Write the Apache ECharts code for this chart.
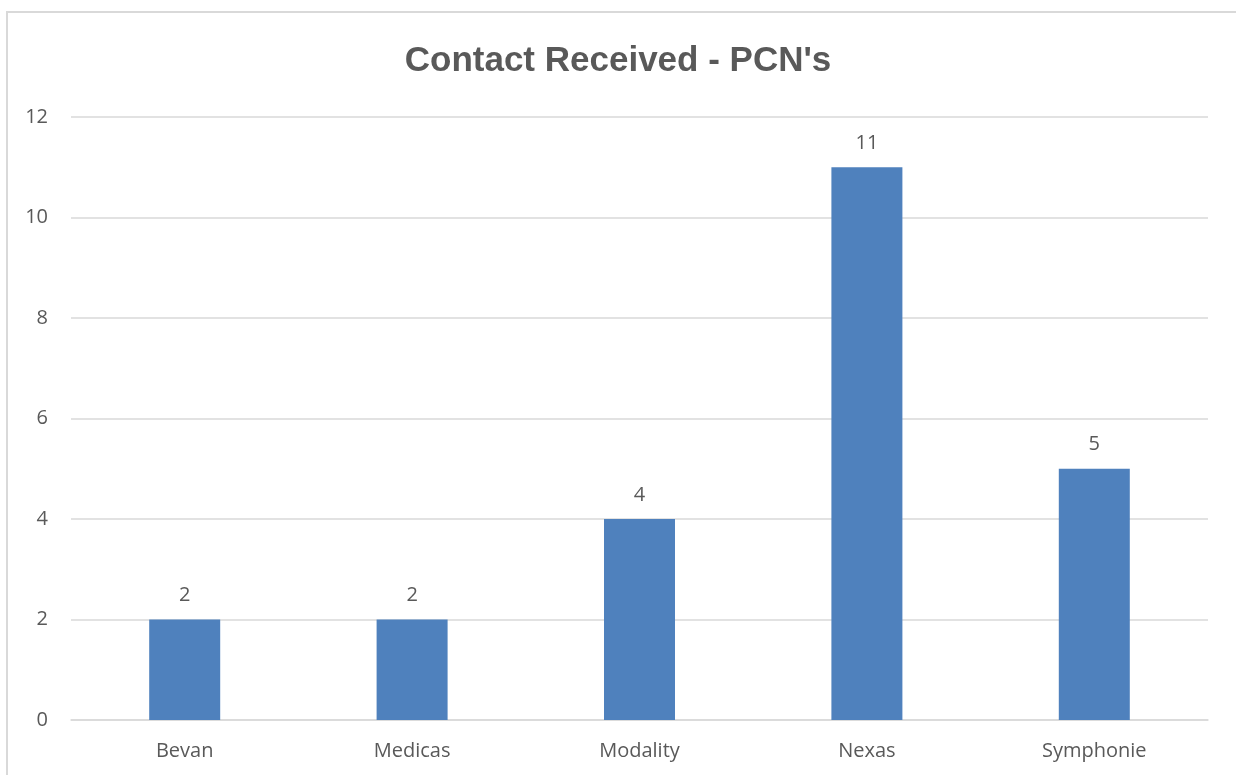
<!DOCTYPE html>
<html>
<head>
<meta charset="utf-8">
<script src="https://cdn.jsdelivr.net/npm/echarts@6/dist/echarts.min.js"></script>
<style>
  html, body { margin: 0; padding: 0; background: #fff; }
  #frame { position: absolute; left: 6px; top: 11px; width: 1300px; height: 900px;
           border-left: 2px solid #d9d9d9; border-top: 2px solid #d9d9d9; }
  #main { position: absolute; left: 0; top: 0; width: 1236px; height: 775px; }
</style>
</head>
<body>
<div id="frame"></div>
<div id="main"></div>
<script>
const categories = ['Bevan', 'Medicas', 'Modality', 'Nexas', 'Symphonie']
const contacts = [2, 2, 4, 11, 5]
const yTicks = { min: 0, max: 12, interval: 2 }

const chart = echarts.init(document.getElementById('main'))
const txt = '#595959'
const font = 'Open Sans, Liberation Sans, sans-serif'

chart.setOption({
  animation: false,
  title: {
    text: "Contact Received - PCN's",
    left: 'center',
    top: 39,
    textStyle: { color: txt, fontSize: 35, fontWeight: 'bold', fontFamily: 'Liberation Sans, sans-serif' }
  },
  grid: { left: 71, right: 28, top: 117, bottom: 55 },
  xAxis: {
    type: 'category',
    data: categories,
    axisLine: { lineStyle: { color: '#d9d9d9', width: 1.5 } },
    axisTick: { show: false },
    axisLabel: { color: txt, fontSize: 20, fontFamily: font, margin: 21 }
  },
  yAxis: {
    type: 'value',
    min: yTicks.min,
    max: yTicks.max,
    interval: yTicks.interval,
    axisLine: { show: false },
    axisTick: { show: false },
    axisLabel: { color: txt, fontSize: 20, fontFamily: font, margin: 23 },
    splitLine: { lineStyle: { color: '#d9d9d9', width: 1.5 } }
  },
  series: [{
    type: 'bar',
    data: contacts,
    barWidth: 71,
    itemStyle: { color: '#4f81bd' },
    label: { show: true, position: 'top', distance: 14, color: txt, fontSize: 20, fontFamily: font }
  }]
})
</script>
</body>
</html>
